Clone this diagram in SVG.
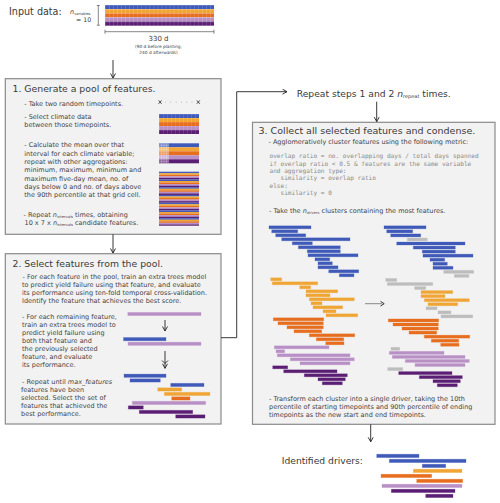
<svg xmlns="http://www.w3.org/2000/svg" width="500" height="503" viewBox="0 0 500 503">
<defs>
<style>
text{font-family:"DejaVu Sans","Verdana",sans-serif;fill:#3a3a3a}
.h{font-size:9.3px}
.b{font-size:6.5px;fill:#444}
.c{font-family:"DejaVu Sans Mono","Liberation Mono",monospace;font-size:6.1px;fill:#8a8a8a}
.box{fill:#f2f2f2;stroke:#8a8a8a;stroke-width:1.2}
.ln{fill:none;stroke:#222;stroke-width:0.9}
.B{fill:#3f5ab8;stroke:#3f5ab8;stroke-opacity:.3;stroke-width:.8}
.O{fill:#f0a535;stroke:#f0a535;stroke-opacity:.3;stroke-width:.8}
.D{fill:#e66e1e;stroke:#e66e1e;stroke-opacity:.3;stroke-width:.8}
.L{fill:#b890c6;stroke:#b890c6;stroke-opacity:.3;stroke-width:.8}
.P{fill:#5b1e74;stroke:#5b1e74;stroke-opacity:.3;stroke-width:.8}
.G{fill:#bdbdbd;stroke:#bdbdbd;stroke-opacity:.3;stroke-width:.8}
</style>
<marker id="ah" markerUnits="userSpaceOnUse" markerWidth="7" markerHeight="7" refX="5" refY="3" orient="auto">
<path d="M0.5,0.5 L5,3 L0.5,5.5" fill="none" stroke="#222" stroke-width="0.9"/>
</marker>
<pattern id="cells" x="105" y="5" width="4.04" height="4.14" patternUnits="userSpaceOnUse">
<path d="M0,0 H4.04 M0,0 V4.14" stroke="#fff" stroke-opacity="0.45" stroke-width="0.6" fill="none"/>
</pattern>
<pattern id="cells2" x="159" y="114" width="4" height="4" patternUnits="userSpaceOnUse">
<path d="M0,0 H4 M0,0 V4" stroke="#fff" stroke-opacity="0.4" stroke-width="0.6" fill="none"/>
</pattern>
</defs>
<rect width="500" height="503" fill="#fff"/>

<g id="input">
<text x="9" y="15" style="font-size:9.6px">Input data:</text>
<text x="70" y="13.5" style="font-size:6.5px;font-style:italic">n<tspan style="font-size:3.6px;font-style:normal" dy="1.2">variables</tspan></text>
<text x="76" y="21.5" style="font-size:6.3px">= 10</text>
<path d="M96.8,5.5 H99.8 M98.3,5.5 V25.2 M96.8,25.2 H99.8" stroke="#555" stroke-width="0.7" fill="none"/>
<rect x="105" y="5" width="109" height="4.14" fill="#3f5ab8"/>
<rect x="105" y="9.14" width="109" height="4.14" fill="#f0a535"/>
<rect x="105" y="13.28" width="109" height="4.14" fill="#e66e1e"/>
<rect x="105" y="17.42" width="109" height="4.14" fill="#b890c6"/>
<rect x="105" y="21.56" width="109" height="4.14" fill="#5b1e74"/>
<rect x="105" y="5" width="109" height="20.7" fill="url(#cells)"/>
<path d="M105,31.7 H214 M105,29.7 V33.7 M214,29.7 V33.7" stroke="#555" stroke-width="0.7" fill="none"/>
<text x="158.5" y="40.5" text-anchor="middle" style="font-size:7px">330 d</text>
<text x="158.5" y="47.5" text-anchor="middle" style="font-size:4.3px">(90 d before planting,</text>
<text x="158.5" y="53.5" text-anchor="middle" style="font-size:4.3px">240 d afterwards)</text>
</g>

<g id="step1">
<rect class="box" x="5.3" y="78.7" width="215.7" height="155.6"/>
<text class="h" x="12.5" y="92">1. Generate a pool of features.</text>
<text class="b" x="24.3" y="105.7">- Take two random timepoints.</text>
<text class="b" x="24.3" y="119">- Select climate data</text>
<text class="b" x="24.3" y="126.8">between those timepoints.</text>
<text class="b" x="24.3" y="147.4">- Calculate the mean over that</text>
<text class="b" x="24.3" y="155.7">interval for each climate variable;</text>
<text class="b" x="24.3" y="164">repeat with other aggregations:</text>
<text class="b" x="24.3" y="172.3">minimum, maximum, minimum and</text>
<text class="b" x="24.3" y="180.6">maximum five-day mean, no. of</text>
<text class="b" x="24.3" y="188.9">days below 0 and no. of days above</text>
<text class="b" x="24.3" y="197.2">the 90th percentile at that grid cell.</text>
<text class="b" x="23.5" y="217.4">- Repeat <tspan font-style="italic">n</tspan><tspan style="font-size:3.7px" dy="1">intervals</tspan><tspan dy="-1"> times, obtaining</tspan></text>
<text class="b" x="24.5" y="225.4">10 x 7 x <tspan font-style="italic">n</tspan><tspan style="font-size:3.7px" dy="1">intervals</tspan><tspan dy="-1"> candidate features.</tspan></text>
<path d="M158.6,100.4 L161.6,103.8 M161.6,100.4 L158.6,103.8 M196.8,100.4 L199.8,103.8 M199.8,100.4 L196.8,103.8" stroke="#222" stroke-width="0.8"/>
<g fill="#666"><circle cx="165.5" cy="102.1" r="0.45"/><circle cx="170.8" cy="102.1" r="0.45"/><circle cx="176.1" cy="102.1" r="0.45"/><circle cx="181.4" cy="102.1" r="0.45"/><circle cx="186.7" cy="102.1" r="0.45"/><circle cx="192" cy="102.1" r="0.45"/></g>
<rect x="159" y="114" width="40" height="4" fill="#3f5ab8"/>
<rect x="159" y="118" width="40" height="4" fill="#f0a535"/>
<rect x="159" y="122" width="40" height="4" fill="#e66e1e"/>
<rect x="159" y="126" width="40" height="4" fill="#b890c6"/>
<rect x="159" y="130" width="40" height="4" fill="#5b1e74"/>
<rect x="159" y="114" width="40" height="20" fill="url(#cells2)"/>
<rect x="159" y="143.3" width="40" height="4" fill="#3f5ab8"/>
<rect x="159" y="147.3" width="40" height="4" fill="#f0a535"/>
<rect x="159" y="151.3" width="40" height="4" fill="#e66e1e"/>
<rect x="159" y="155.3" width="40" height="4" fill="#b890c6"/>
<rect x="159" y="159.3" width="40" height="4" fill="#5b1e74"/>
<rect x="159" y="143.3" width="10" height="20" fill="#fff" fill-opacity="0.3"/>
<path d="M161.5,143.3 V163.3 M164,143.3 V163.3 M166.5,143.3 V163.3 M159,145.3 H169 M159,149.3 H169 M159,153.3 H169 M159,157.3 H169 M159,161.3 H169" stroke="#fff" stroke-opacity="0.45" stroke-width="0.5"/>
<g id="stripes">
<rect x="159" y="171.7" width="40" height="1.55" fill="#3f5ab8"/><rect x="159" y="173.25" width="40" height="1.55" fill="#f0a535"/><rect x="159" y="174.8" width="40" height="1.55" fill="#e66e1e"/><rect x="159" y="176.35" width="40" height="1.55" fill="#b890c6"/><rect x="159" y="177.9" width="40" height="1.55" fill="#5b1e74"/>
<rect x="159" y="179.45" width="40" height="1.55" fill="#3f5ab8"/><rect x="159" y="181" width="40" height="1.55" fill="#f0a535"/><rect x="159" y="182.55" width="40" height="1.55" fill="#e66e1e"/><rect x="159" y="184.1" width="40" height="1.55" fill="#b890c6"/><rect x="159" y="185.65" width="40" height="1.55" fill="#5b1e74"/>
<rect x="159" y="187.2" width="40" height="1.55" fill="#3f5ab8"/><rect x="159" y="188.75" width="40" height="1.55" fill="#f0a535"/><rect x="159" y="190.3" width="40" height="1.55" fill="#e66e1e"/><rect x="159" y="191.85" width="40" height="1.55" fill="#b890c6"/><rect x="159" y="193.4" width="40" height="1.55" fill="#5b1e74"/>
<rect x="159" y="194.95" width="40" height="1.55" fill="#3f5ab8"/><rect x="159" y="196.5" width="40" height="1.55" fill="#f0a535"/><rect x="159" y="198.05" width="40" height="1.55" fill="#e66e1e"/><rect x="159" y="199.6" width="40" height="1.55" fill="#b890c6"/><rect x="159" y="201.15" width="40" height="1.55" fill="#5b1e74"/>
<rect x="159" y="202.7" width="40" height="1.55" fill="#3f5ab8"/><rect x="159" y="204.25" width="40" height="1.55" fill="#f0a535"/><rect x="159" y="205.8" width="40" height="1.55" fill="#e66e1e"/><rect x="159" y="207.35" width="40" height="1.55" fill="#b890c6"/><rect x="159" y="208.9" width="40" height="1.55" fill="#5b1e74"/>
<rect x="159" y="210.45" width="40" height="1.55" fill="#3f5ab8"/><rect x="159" y="212" width="40" height="1.55" fill="#f0a535"/><rect x="159" y="213.55" width="40" height="1.55" fill="#e66e1e"/><rect x="159" y="215.1" width="40" height="1.55" fill="#b890c6"/><rect x="159" y="216.65" width="40" height="1.55" fill="#5b1e74"/>
<rect x="159" y="218.2" width="40" height="1.55" fill="#3f5ab8"/><rect x="159" y="219.75" width="40" height="1.55" fill="#f0a535"/><rect x="159" y="221.3" width="40" height="1.55" fill="#e66e1e"/><rect x="159" y="222.85" width="40" height="1.55" fill="#b890c6"/><rect x="159" y="224.4" width="40" height="1.3" fill="#5b1e74"/>
</g>
</g>

<g id="step2">
<rect class="box" x="5.3" y="253.7" width="215.7" height="170.3"/>
<text class="h" x="12.5" y="266.5">2. Select features from the pool.</text>
<text class="b" x="22.5" y="278.7">- For each feature in the pool, train an extra trees model</text>
<text class="b" x="22" y="286.7">to predict yield failure using that feature, and evaluate</text>
<text class="b" x="22" y="294.7">its performance using ten-fold temporal cross-validation.</text>
<text class="b" x="22" y="302.7">Identify the feature that achieves the best score.</text>
<text class="b" x="22" y="319.3">- For each remaining feature,</text>
<text class="b" x="22" y="327.3">train an extra trees model to</text>
<text class="b" x="22" y="335.3">predict yield failure using</text>
<text class="b" x="22" y="343.3">both that feature and</text>
<text class="b" x="22" y="351.3">the previously selected</text>
<text class="b" x="22" y="359.3">feature, and evaluate</text>
<text class="b" x="22" y="367.3">its performance.</text>
<text class="b" x="22" y="383.5">- Repeat until <tspan font-style="italic">max_features</tspan></text>
<text class="b" x="21" y="391.5">features have been</text>
<text class="b" x="21" y="399.5">selected. Select the set of</text>
<text class="b" x="21" y="407.5">features that achieved the</text>
<text class="b" x="21" y="415.5">best performance.</text>
<rect class="L" x="127.8" y="312.4" width="73.2" height="3.2"/>
<path class="ln" d="M165,320 V331" marker-end="url(#ah)"/>
<rect class="B" x="123.5" y="337.5" width="42.5" height="3.3"/>
<rect class="L" x="128" y="342.2" width="73" height="3.2"/>
<path class="ln" d="M165,351 V368.3" marker-end="url(#ah)"/>
<path d="M162,360.5 L165,363.5 L168,360.5" fill="none" stroke="#222" stroke-width="0.9"/>
<rect class="B" x="124" y="374.1" width="42" height="3.3"/>
<rect class="B" x="130" y="378.8" width="30.3" height="3.3"/>
<rect class="B" x="170.7" y="383.3" width="33.3" height="3.3"/>
<rect class="O" x="157.7" y="387.8" width="24" height="3.3"/>
<rect class="O" x="164.3" y="392.3" width="45.7" height="3.3"/>
<rect class="D" x="171.7" y="396.8" width="18.3" height="3.3"/>
<rect class="L" x="132.3" y="401.3" width="73.4" height="3.3"/>
<rect class="P" x="128.3" y="405.8" width="15" height="3.3"/>
<rect class="P" x="139.3" y="410.3" width="53.4" height="3.3"/>
<rect class="P" x="175.7" y="414.8" width="29.3" height="3.3"/>
</g>

<g id="repeat">
<text x="296.7" y="96.5" style="font-size:9.2px">Repeat steps 1 and 2 <tspan font-style="italic">n</tspan><tspan style="font-size:5px" dy="1.5">repeat</tspan><tspan dy="-1.5"> times.</tspan></text>
</g>

<g id="step3">
<rect class="box" x="252.5" y="122.3" width="242.5" height="302"/>
<text x="258.5" y="134" style="font-size:9.5px">3. Collect all selected features and condense.</text>
<text class="b" x="268.5" y="143.5">- Agglomeratively cluster features using the following metric:</text>
<text class="c" x="269.5" y="158.2">overlap ratio = no. overlapping days / total days spanned</text>
<text class="c" x="269.5" y="165.5">if overlap ratio &lt; 0.5 &amp; features are the same variable</text>
<text class="c" x="269.5" y="172.8">and aggregation type:</text>
<text class="c" x="269.5" y="180.2" xml:space="preserve">   similarity = overlap ratio</text>
<text class="c" x="269.5" y="187.5">else:</text>
<text class="c" x="269.5" y="194.8" xml:space="preserve">   similarity = 0</text>
<text class="b" x="269" y="212.7">- Take the <tspan font-style="italic">n</tspan><tspan style="font-size:3.7px;font-style:italic" dy="1">drivers</tspan><tspan dy="-1"> clusters containing the most features.</tspan></text>
<g id="clusterL">
<rect class="B" x="269" y="225.8" width="42" height="3"/>
<rect class="B" x="271.7" y="229.8" width="26" height="3"/>
<rect class="B" x="275.7" y="233.8" width="30" height="3"/>
<rect class="B" x="281.7" y="237.8" width="68.3" height="3"/>
<rect class="B" x="292.3" y="241.8" width="20" height="3"/>
<rect class="B" x="298.3" y="245.8" width="42" height="3"/>
<rect class="B" x="307.3" y="249.8" width="33" height="3"/>
<rect class="B" x="308" y="253.8" width="50" height="3"/>
<rect class="B" x="315" y="257.8" width="14.7" height="3"/>
<rect class="B" x="318" y="261.8" width="14.3" height="3"/>
<rect class="B" x="318" y="265.8" width="20" height="3"/>
<rect class="B" x="328.7" y="269.8" width="30" height="3"/>
<rect class="B" x="339.3" y="273.8" width="14.7" height="3"/>
<rect class="O" x="270.7" y="277.8" width="11" height="3"/>
<rect class="O" x="272.3" y="281.8" width="45.4" height="3"/>
<rect class="O" x="299.7" y="285.8" width="11" height="3"/>
<rect class="O" x="306" y="289.8" width="31.7" height="3"/>
<rect class="O" x="306" y="293.8" width="24" height="3"/>
<rect class="O" x="309.3" y="297.8" width="45" height="3"/>
<rect class="O" x="311" y="301.8" width="11" height="3"/>
<rect class="O" x="313" y="305.8" width="29.7" height="3"/>
<rect class="O" x="323" y="309.8" width="13" height="3"/>
<rect class="O" x="326" y="313.8" width="31.7" height="3"/>
<rect class="D" x="273.3" y="317.8" width="50.4" height="3"/>
<rect class="D" x="278" y="321.8" width="45.3" height="3"/>
<rect class="D" x="287" y="325.8" width="36.3" height="3"/>
<rect class="D" x="294" y="329.8" width="27.7" height="3"/>
<rect class="D" x="309.3" y="333.8" width="45.4" height="3"/>
<rect class="D" x="316.3" y="337.8" width="27.4" height="3"/>
<rect class="D" x="325.7" y="341.8" width="18.3" height="3"/>
<rect class="L" x="274.3" y="345.8" width="54.7" height="3"/>
<rect class="L" x="276" y="349.8" width="8.7" height="3"/>
<rect class="L" x="277.3" y="353.8" width="72.7" height="3"/>
<rect class="L" x="290.3" y="357.8" width="64" height="3"/>
<rect class="L" x="300" y="361.8" width="50" height="3"/>
<rect class="P" x="272.7" y="365.8" width="15" height="3"/>
<rect class="P" x="283.7" y="369.8" width="53.3" height="3"/>
<rect class="P" x="304.3" y="373.8" width="43" height="3"/>
<rect class="P" x="318" y="377.8" width="27.3" height="3"/>
<rect class="P" x="322.3" y="381.8" width="20" height="3"/>
</g>
<g id="clusterR">
<rect class="B" x="384" y="225.8" width="42" height="3"/>
<rect class="B" x="386.7" y="229.85" width="26" height="3"/>
<rect class="B" x="390.7" y="233.9" width="30" height="3"/>
<rect class="G" x="407.3" y="237.95" width="20" height="3"/>
<rect class="B" x="396.7" y="242" width="68.3" height="3"/>
<rect class="B" x="413.3" y="246.05" width="42" height="3"/>
<rect class="B" x="422.3" y="250.1" width="33" height="3"/>
<rect class="B" x="423" y="254.15" width="50" height="3"/>
<rect class="B" x="430" y="258.2" width="14.7" height="3"/>
<rect class="B" x="433" y="262.25" width="14.3" height="3"/>
<rect class="B" x="433" y="266.3" width="20" height="3"/>
<rect class="G" x="443.7" y="270.35" width="30" height="3"/>
<rect class="G" x="454.3" y="274.4" width="14.7" height="3"/>
<rect class="G" x="385.7" y="278.45" width="11" height="3"/>
<rect class="G" x="387.3" y="282.5" width="45.4" height="3"/>
<rect class="G" x="414.7" y="286.55" width="11" height="3"/>
<rect class="O" x="421" y="290.6" width="31.7" height="3"/>
<rect class="O" x="421" y="294.65" width="24" height="3"/>
<rect class="O" x="424.3" y="298.7" width="45" height="3"/>
<rect class="O" x="428" y="302.75" width="29.7" height="3"/>
<rect class="G" x="426" y="306.8" width="11" height="3"/>
<rect class="G" x="438" y="310.85" width="13" height="3"/>
<rect class="G" x="441" y="314.9" width="31.7" height="3"/>
<rect class="D" x="388.3" y="318.95" width="50.4" height="3"/>
<rect class="D" x="393" y="323" width="45.3" height="3"/>
<rect class="D" x="402" y="327.05" width="36.3" height="3"/>
<rect class="D" x="409" y="331.1" width="27.7" height="3"/>
<rect class="D" x="424.3" y="335.15" width="45.4" height="3"/>
<rect class="D" x="431.3" y="339.2" width="27.4" height="3"/>
<rect class="D" x="440.7" y="343.25" width="18.3" height="3"/>
<rect class="G" x="391" y="347.3" width="8.7" height="3"/>
<rect class="L" x="389.3" y="351.35" width="54.7" height="3"/>
<rect class="L" x="392.3" y="355.4" width="72.7" height="3"/>
<rect class="L" x="405.3" y="359.45" width="64" height="3"/>
<rect class="L" x="415" y="363.5" width="50" height="3"/>
<rect class="G" x="387.7" y="367.55" width="15" height="3"/>
<rect class="P" x="398.7" y="371.6" width="53.3" height="3"/>
<rect class="P" x="419.3" y="375.65" width="43" height="3"/>
<rect class="P" x="433" y="379.7" width="27.3" height="3"/>
<rect class="P" x="437.3" y="383.75" width="20" height="3"/>
</g>
<path d="M365,303.7 H382" stroke="#888" stroke-width="1"/>
<path d="M380.5,301.4 L384.2,303.7 L380.5,306" fill="none" stroke="#333" stroke-width="1"/>
<text class="b" x="269" y="401">- Transform each cluster into a single driver, taking the 10th</text>
<text class="b" x="269" y="409">percentile of starting timepoints and 90th percentile of ending</text>
<text class="b" x="269" y="417">timepoints as the new start and end timepoints.</text>
</g>

<g id="drivers">
<text x="281.7" y="463.5" style="font-size:9.2px">Identified drivers:</text>
<rect class="B" x="376.7" y="454.2" width="42.3" height="3.4"/>
<rect class="B" x="389.3" y="459.2" width="76.7" height="3.4"/>
<rect class="B" x="422.3" y="464.2" width="23.4" height="3.4"/>
<rect class="O" x="413.3" y="469.2" width="48.7" height="3.4"/>
<rect class="D" x="381" y="474.2" width="50.7" height="3.4"/>
<rect class="D" x="416.7" y="479.2" width="46" height="3.4"/>
<rect class="L" x="382" y="484.2" width="80" height="3.4"/>
<rect class="P" x="391.3" y="489.2" width="63.7" height="3.4"/>
<rect class="P" x="425.7" y="494.2" width="27.3" height="3.4"/>
</g>

<g id="connectors">
<path class="ln" d="M113,60 V78" marker-end="url(#ah)"/>
<path class="ln" d="M113,234.3 V253" marker-end="url(#ah)"/>
<path class="ln" d="M221,337.7 H236.7 V91.7 H287" marker-end="url(#ah)"/>
<path class="ln" d="M376.7,101.7 V121.6" marker-end="url(#ah)"/>
<path class="ln" d="M370.7,424.3 V441.8" marker-end="url(#ah)"/>
</g>
</svg>
